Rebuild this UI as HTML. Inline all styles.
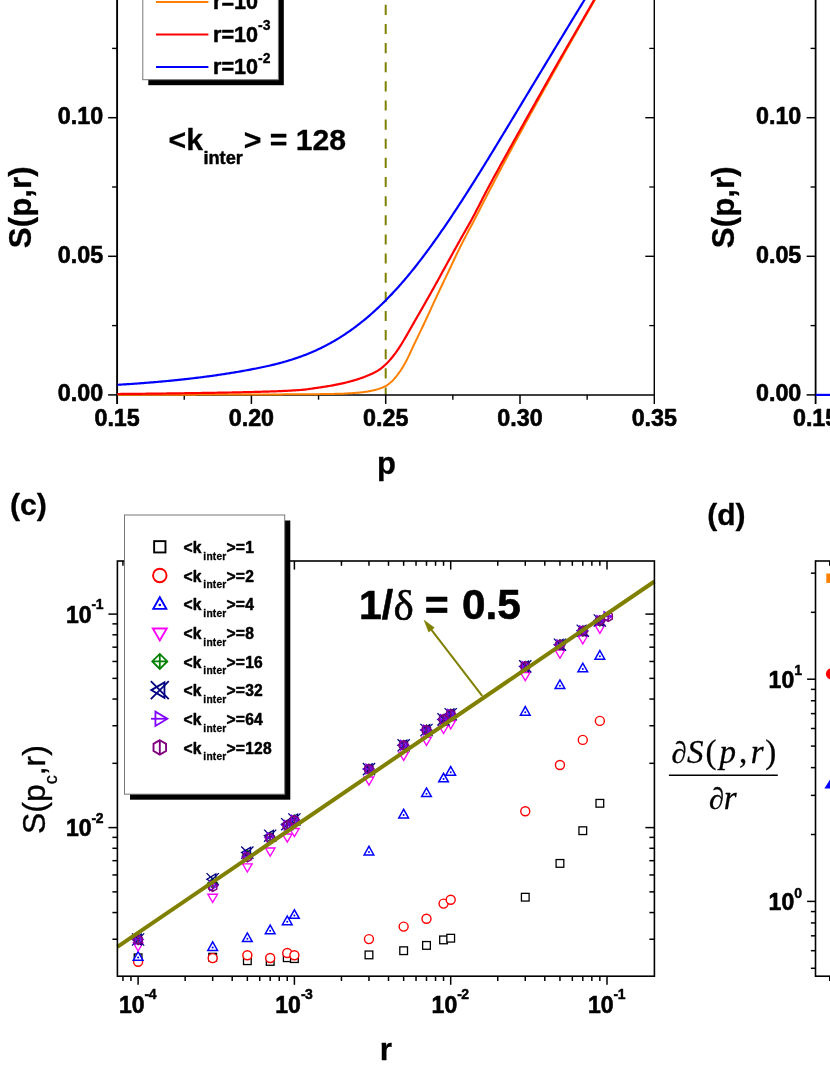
<!DOCTYPE html>
<html><head><meta charset="utf-8"><title>figure</title>
<style>html,body{margin:0;padding:0;background:#fff;overflow:hidden;}svg{display:block;will-change:transform;}text.b{stroke:#000;stroke-width:0.6px;stroke-linejoin:round;}text.g{stroke:#000;stroke-width:0.3px;stroke-linejoin:round;}text.m{stroke:#000;stroke-width:0.5px;stroke-linejoin:round;}tspan.s{stroke-width:0.3px;}tspan.t{stroke-width:0.45px;}</style></head>
<body>
<svg width="830" height="1075" viewBox="0 0 830 1075">
<rect x="0" y="0" width="830" height="1075" fill="#fff"/>
<line x1="385.7" y1="-14.3" x2="385.7" y2="394.9" stroke="#808000" stroke-width="2" stroke-dasharray="10.1 9.03"/>
<line x1="117.10" y1="-5.00" x2="117.10" y2="403.90" stroke="#000" stroke-width="1.9" />
<line x1="116.30" y1="394.90" x2="654.90" y2="394.90" stroke="#000" stroke-width="1.5" />
<line x1="654.30" y1="-5.00" x2="654.30" y2="403.90" stroke="#000" stroke-width="1.4" />
<text x="117.10" y="426.40" font-family='"Liberation Sans", sans-serif' font-size="23.3" font-weight="bold" class="b" text-anchor="middle" fill="#000" >0.15</text>
<line x1="251.40" y1="394.90" x2="251.40" y2="403.90" stroke="#000" stroke-width="1.5" />
<text x="251.40" y="426.40" font-family='"Liberation Sans", sans-serif' font-size="23.3" font-weight="bold" class="b" text-anchor="middle" fill="#000" >0.20</text>
<line x1="385.70" y1="394.90" x2="385.70" y2="403.90" stroke="#000" stroke-width="1.5" />
<text x="385.70" y="426.40" font-family='"Liberation Sans", sans-serif' font-size="23.3" font-weight="bold" class="b" text-anchor="middle" fill="#000" >0.25</text>
<line x1="520.00" y1="394.90" x2="520.00" y2="403.90" stroke="#000" stroke-width="1.5" />
<text x="520.00" y="426.40" font-family='"Liberation Sans", sans-serif' font-size="23.3" font-weight="bold" class="b" text-anchor="middle" fill="#000" >0.30</text>
<text x="654.30" y="426.40" font-family='"Liberation Sans", sans-serif' font-size="23.3" font-weight="bold" class="b" text-anchor="middle" fill="#000" >0.35</text>
<line x1="184.25" y1="394.90" x2="184.25" y2="399.70" stroke="#000" stroke-width="1.4" />
<line x1="318.55" y1="394.90" x2="318.55" y2="399.70" stroke="#000" stroke-width="1.4" />
<line x1="452.85" y1="394.90" x2="452.85" y2="399.70" stroke="#000" stroke-width="1.4" />
<line x1="587.15" y1="394.90" x2="587.15" y2="399.70" stroke="#000" stroke-width="1.4" />
<line x1="108.10" y1="394.90" x2="117.10" y2="394.90" stroke="#000" stroke-width="1.5" />
<text x="103.20" y="401.40" font-family='"Liberation Sans", sans-serif' font-size="23.3" font-weight="bold" class="b" text-anchor="end" fill="#000" >0.00</text>
<line x1="108.10" y1="256.30" x2="117.10" y2="256.30" stroke="#000" stroke-width="1.5" />
<line x1="645.30" y1="256.30" x2="654.30" y2="256.30" stroke="#000" stroke-width="1.4" />
<text x="103.20" y="262.80" font-family='"Liberation Sans", sans-serif' font-size="23.3" font-weight="bold" class="b" text-anchor="end" fill="#000" >0.05</text>
<line x1="108.10" y1="117.70" x2="117.10" y2="117.70" stroke="#000" stroke-width="1.5" />
<line x1="645.30" y1="117.70" x2="654.30" y2="117.70" stroke="#000" stroke-width="1.4" />
<text x="103.20" y="124.20" font-family='"Liberation Sans", sans-serif' font-size="23.3" font-weight="bold" class="b" text-anchor="end" fill="#000" >0.10</text>
<line x1="112.10" y1="325.60" x2="117.10" y2="325.60" stroke="#000" stroke-width="1.4" />
<line x1="649.30" y1="325.60" x2="654.30" y2="325.60" stroke="#000" stroke-width="1.3" />
<line x1="112.10" y1="187.00" x2="117.10" y2="187.00" stroke="#000" stroke-width="1.4" />
<line x1="649.30" y1="187.00" x2="654.30" y2="187.00" stroke="#000" stroke-width="1.3" />
<line x1="112.10" y1="48.40" x2="117.10" y2="48.40" stroke="#000" stroke-width="1.4" />
<line x1="649.30" y1="48.40" x2="654.30" y2="48.40" stroke="#000" stroke-width="1.3" />
<path d="M117.50,394.70 L118.71,394.70 L119.92,394.70 L121.13,394.70 L122.34,394.70 L123.55,394.70 L124.76,394.70 L125.96,394.70 L127.17,394.70 L128.38,394.70 L129.59,394.70 L130.80,394.70 L132.01,394.70 L133.22,394.70 L134.43,394.70 L135.64,394.70 L136.85,394.70 L138.06,394.70 L139.27,394.69 L140.48,394.69 L141.69,394.69 L142.89,394.69 L144.10,394.69 L145.31,394.69 L146.52,394.69 L147.73,394.69 L148.94,394.69 L150.15,394.69 L151.36,394.69 L152.57,394.69 L153.78,394.68 L154.99,394.68 L156.20,394.68 L157.41,394.68 L158.62,394.68 L159.82,394.68 L161.03,394.68 L162.24,394.68 L163.45,394.68 L164.66,394.67 L165.87,394.67 L167.08,394.67 L168.29,394.67 L169.50,394.67 L170.71,394.67 L171.92,394.66 L173.13,394.66 L174.34,394.66 L175.55,394.66 L176.75,394.66 L177.96,394.66 L179.17,394.65 L180.38,394.65 L181.59,394.65 L182.80,394.65 L184.01,394.65 L185.22,394.65 L186.43,394.64 L187.64,394.64 L188.85,394.64 L190.06,394.64 L191.27,394.64 L192.47,394.63 L193.68,394.63 L194.89,394.63 L196.10,394.63 L197.31,394.62 L198.52,394.62 L199.73,394.62 L200.94,394.62 L202.15,394.61 L203.36,394.61 L204.57,394.61 L205.78,394.61 L206.99,394.60 L208.20,394.60 L209.40,394.60 L210.61,394.60 L211.82,394.59 L213.03,394.59 L214.24,394.59 L215.45,394.59 L216.66,394.58 L217.87,394.58 L219.08,394.58 L220.29,394.57 L221.50,394.57 L222.71,394.57 L223.92,394.57 L225.13,394.56 L226.33,394.56 L227.54,394.56 L228.75,394.55 L229.96,394.55 L231.17,394.55 L232.38,394.54 L233.59,394.54 L234.80,394.54 L236.01,394.53 L237.22,394.53 L238.43,394.53 L239.64,394.52 L240.85,394.52 L242.06,394.52 L243.26,394.51 L244.47,394.51 L245.68,394.50 L246.89,394.50 L248.10,394.50 L249.31,394.49 L250.52,394.49 L251.73,394.48 L252.94,394.48 L254.15,394.48 L255.36,394.47 L256.57,394.47 L257.78,394.46 L258.98,394.46 L260.19,394.46 L261.40,394.45 L262.61,394.45 L263.82,394.44 L265.03,394.44 L266.24,394.44 L267.45,394.43 L268.66,394.43 L269.87,394.42 L271.08,394.42 L272.29,394.41 L273.50,394.41 L274.71,394.40 L275.91,394.40 L277.12,394.39 L278.33,394.39 L279.54,394.39 L280.75,394.38 L281.96,394.38 L283.17,394.37 L284.38,394.37 L285.59,394.36 L286.80,394.36 L288.01,394.35 L289.22,394.35 L290.43,394.34 L291.64,394.34 L292.84,394.33 L294.05,394.33 L295.26,394.32 L296.47,394.32 L297.68,394.31 L298.89,394.30 L300.10,394.30 L301.31,394.29 L302.52,394.29 L303.73,394.28 L304.94,394.27 L306.15,394.27 L307.36,394.26 L308.57,394.25 L309.77,394.24 L310.98,394.23 L312.19,394.22 L313.40,394.20 L314.61,394.19 L315.82,394.18 L317.03,394.17 L318.24,394.15 L319.45,394.14 L320.66,394.12 L321.87,394.10 L323.08,394.09 L324.29,394.07 L325.49,394.05 L326.70,394.03 L327.91,394.01 L329.12,393.99 L330.33,393.97 L331.54,393.95 L332.75,393.92 L333.96,393.90 L335.17,393.87 L336.38,393.85 L337.59,393.82 L338.80,393.80 L340.01,393.76 L341.22,393.73 L342.42,393.68 L343.63,393.63 L344.84,393.57 L346.05,393.51 L347.26,393.45 L348.47,393.37 L349.68,393.30 L350.89,393.22 L352.10,393.14 L353.31,393.05 L354.52,392.96 L355.73,392.87 L356.94,392.77 L358.15,392.67 L359.35,392.56 L360.56,392.44 L361.77,392.30 L362.98,392.15 L364.19,391.99 L365.40,391.82 L366.61,391.64 L367.82,391.45 L369.03,391.24 L370.24,391.02 L371.45,390.78 L372.66,390.52 L373.87,390.25 L375.08,389.95 L376.28,389.63 L377.49,389.29 L378.70,388.91 L379.91,388.50 L381.12,388.05 L382.33,387.56 L383.54,387.03 L384.75,386.45 L385.96,385.81 L387.17,385.08 L388.38,384.24 L389.59,383.30 L390.80,382.27 L392.01,381.17 L393.21,380.00 L394.42,378.69 L395.63,377.27 L396.84,375.75 L398.05,374.13 L399.26,372.45 L400.47,370.71 L401.68,368.86 L402.89,366.91 L404.10,364.85 L405.31,362.69 L406.52,360.45 L407.73,358.13 L408.93,355.67 L410.14,353.00 L411.35,350.32 L412.56,347.74 L413.77,345.18 L414.98,342.65 L416.19,340.13 L417.40,337.62 L418.61,335.11 L419.82,332.60 L421.03,330.08 L422.24,327.55 L423.45,325.00 L424.66,322.43 L425.86,319.83 L427.07,317.22 L428.28,314.60 L429.49,311.96 L430.70,309.32 L431.91,306.69 L433.12,304.06 L434.33,301.44 L435.54,298.83 L436.75,296.24 L437.96,293.67 L439.17,291.11 L440.38,288.55 L441.59,286.00 L442.79,283.46 L444.00,280.92 L445.21,278.38 L446.42,275.85 L447.63,273.31 L448.84,270.77 L450.05,268.22 L451.26,265.66 L452.47,263.10 L453.68,260.53 L454.89,257.98 L456.10,255.44 L457.31,252.92 L458.52,250.42 L459.72,247.96 L460.93,245.54 L462.14,243.15 L463.35,240.79 L464.56,238.47 L465.77,236.16 L466.98,233.87 L468.19,231.59 L469.40,229.31 L470.61,227.03 L471.82,224.74 L473.03,222.44 L474.24,220.12 L475.44,217.79 L476.65,215.44 L477.86,213.09 L479.07,210.73 L480.28,208.37 L481.49,206.01 L482.70,203.65 L483.91,201.29 L485.12,198.94 L486.33,196.59 L487.54,194.26 L488.75,191.93 L489.96,189.62 L491.17,187.30 L492.37,184.99 L493.58,182.69 L494.79,180.39 L496.00,178.09 L497.21,175.79 L498.42,173.50 L499.63,171.21 L500.84,168.92 L502.05,166.64 L503.26,164.36 L504.47,162.09 L505.68,159.82 L506.89,157.55 L508.10,155.29 L509.30,153.03 L510.51,150.78 L511.72,148.53 L512.93,146.28 L514.14,144.04 L515.35,141.81 L516.56,139.58 L517.77,137.35 L518.98,135.13 L520.19,132.91 L521.40,130.70 L522.61,128.49 L523.82,126.28 L525.03,124.07 L526.23,121.87 L527.44,119.67 L528.65,117.48 L529.86,115.28 L531.07,113.09 L532.28,110.90 L533.49,108.71 L534.70,106.52 L535.91,104.33 L537.12,102.14 L538.33,99.96 L539.54,97.77 L540.75,95.59 L541.95,93.41 L543.16,91.23 L544.37,89.05 L545.58,86.88 L546.79,84.70 L548.00,82.53 L549.21,80.36 L550.42,78.19 L551.63,76.03 L552.84,73.86 L554.05,71.70 L555.26,69.54 L556.47,67.39 L557.68,65.23 L558.88,63.08 L560.09,60.93 L561.30,58.78 L562.51,56.64 L563.72,54.50 L564.93,52.36 L566.14,50.22 L567.35,48.08 L568.56,45.95 L569.77,43.81 L570.98,41.68 L572.19,39.55 L573.40,37.42 L574.61,35.30 L575.81,33.17 L577.02,31.05 L578.23,28.93 L579.44,26.81 L580.65,24.69 L581.86,22.57 L583.07,20.46 L584.28,18.34 L585.49,16.23 L586.70,14.12 L587.91,12.01 L589.12,9.90 L590.33,7.79 L591.54,5.68 L592.74,3.58 L593.95,1.47 L595.16,-0.63 L596.37,-2.73 L597.58,-4.82 L598.79,-6.91 L600.00,-9.00" fill="none" stroke="#ff8000" stroke-width="2"/>
<path d="M117.50,394.00 L118.71,393.99 L119.92,393.98 L121.13,393.97 L122.34,393.96 L123.55,393.95 L124.76,393.94 L125.96,393.93 L127.17,393.92 L128.38,393.91 L129.59,393.90 L130.80,393.89 L132.01,393.88 L133.22,393.86 L134.43,393.85 L135.64,393.84 L136.85,393.83 L138.06,393.82 L139.27,393.80 L140.48,393.79 L141.69,393.78 L142.89,393.76 L144.10,393.75 L145.31,393.74 L146.52,393.72 L147.73,393.71 L148.94,393.70 L150.15,393.68 L151.36,393.67 L152.57,393.65 L153.78,393.64 L154.99,393.63 L156.20,393.61 L157.41,393.60 L158.62,393.58 L159.82,393.57 L161.03,393.55 L162.24,393.54 L163.45,393.52 L164.66,393.50 L165.87,393.49 L167.08,393.47 L168.29,393.46 L169.50,393.44 L170.71,393.42 L171.92,393.41 L173.13,393.39 L174.34,393.37 L175.55,393.36 L176.75,393.34 L177.96,393.32 L179.17,393.31 L180.38,393.29 L181.59,393.27 L182.80,393.26 L184.01,393.24 L185.22,393.22 L186.43,393.20 L187.64,393.19 L188.85,393.17 L190.06,393.15 L191.27,393.13 L192.47,393.11 L193.68,393.10 L194.89,393.08 L196.10,393.06 L197.31,393.04 L198.52,393.02 L199.73,393.00 L200.94,392.99 L202.15,392.97 L203.36,392.95 L204.57,392.93 L205.78,392.91 L206.99,392.89 L208.20,392.87 L209.40,392.85 L210.61,392.83 L211.82,392.82 L213.03,392.80 L214.24,392.78 L215.45,392.76 L216.66,392.74 L217.87,392.72 L219.08,392.70 L220.29,392.67 L221.50,392.65 L222.71,392.63 L223.92,392.61 L225.13,392.59 L226.33,392.57 L227.54,392.54 L228.75,392.52 L229.96,392.50 L231.17,392.48 L232.38,392.45 L233.59,392.43 L234.80,392.40 L236.01,392.38 L237.22,392.35 L238.43,392.33 L239.64,392.30 L240.85,392.28 L242.06,392.25 L243.26,392.22 L244.47,392.20 L245.68,392.17 L246.89,392.14 L248.10,392.11 L249.31,392.08 L250.52,392.05 L251.73,392.02 L252.94,391.99 L254.15,391.96 L255.36,391.93 L256.57,391.90 L257.78,391.86 L258.98,391.83 L260.19,391.79 L261.40,391.76 L262.61,391.72 L263.82,391.69 L265.03,391.65 L266.24,391.61 L267.45,391.58 L268.66,391.54 L269.87,391.50 L271.08,391.45 L272.29,391.41 L273.50,391.37 L274.71,391.32 L275.91,391.28 L277.12,391.23 L278.33,391.18 L279.54,391.13 L280.75,391.08 L281.96,391.03 L283.17,390.97 L284.38,390.91 L285.59,390.86 L286.80,390.80 L288.01,390.73 L289.22,390.67 L290.43,390.60 L291.64,390.53 L292.84,390.46 L294.05,390.39 L295.26,390.32 L296.47,390.24 L297.68,390.16 L298.89,390.08 L300.10,389.99 L301.31,389.90 L302.52,389.79 L303.73,389.67 L304.94,389.54 L306.15,389.40 L307.36,389.24 L308.57,389.08 L309.77,388.92 L310.98,388.75 L312.19,388.57 L313.40,388.39 L314.61,388.21 L315.82,388.02 L317.03,387.84 L318.24,387.66 L319.45,387.48 L320.66,387.30 L321.87,387.12 L323.08,386.93 L324.29,386.75 L325.49,386.56 L326.70,386.36 L327.91,386.17 L329.12,385.96 L330.33,385.76 L331.54,385.55 L332.75,385.33 L333.96,385.11 L335.17,384.88 L336.38,384.65 L337.59,384.41 L338.80,384.16 L340.01,383.90 L341.22,383.64 L342.42,383.37 L343.63,383.10 L344.84,382.81 L346.05,382.52 L347.26,382.22 L348.47,381.91 L349.68,381.59 L350.89,381.26 L352.10,380.92 L353.31,380.57 L354.52,380.22 L355.73,379.85 L356.94,379.47 L358.15,379.09 L359.35,378.69 L360.56,378.29 L361.77,377.88 L362.98,377.45 L364.19,377.01 L365.40,376.55 L366.61,376.08 L367.82,375.59 L369.03,375.08 L370.24,374.56 L371.45,374.01 L372.66,373.43 L373.87,372.83 L375.08,372.21 L376.28,371.56 L377.49,370.87 L378.70,370.11 L379.91,369.27 L381.12,368.36 L382.33,367.38 L383.54,366.35 L384.75,365.27 L385.96,364.15 L387.17,362.97 L388.38,361.71 L389.59,360.37 L390.80,358.98 L392.01,357.52 L393.21,356.00 L394.42,354.44 L395.63,352.84 L396.84,351.19 L398.05,349.45 L399.26,347.62 L400.47,345.71 L401.68,343.75 L402.89,341.74 L404.10,339.70 L405.31,337.66 L406.52,335.63 L407.73,333.54 L408.93,331.41 L410.14,329.26 L411.35,327.11 L412.56,324.99 L413.77,322.88 L414.98,320.77 L416.19,318.67 L417.40,316.57 L418.61,314.47 L419.82,312.36 L421.03,310.26 L422.24,308.14 L423.45,306.03 L424.66,303.90 L425.86,301.77 L427.07,299.63 L428.28,297.50 L429.49,295.36 L430.70,293.21 L431.91,291.06 L433.12,288.90 L434.33,286.74 L435.54,284.57 L436.75,282.39 L437.96,280.20 L439.17,278.00 L440.38,275.79 L441.59,273.57 L442.79,271.35 L444.00,269.13 L445.21,266.91 L446.42,264.70 L447.63,262.50 L448.84,260.30 L450.05,258.11 L451.26,255.92 L452.47,253.73 L453.68,251.55 L454.89,249.37 L456.10,247.19 L457.31,245.02 L458.52,242.85 L459.72,240.69 L460.93,238.53 L462.14,236.39 L463.35,234.26 L464.56,232.15 L465.77,230.03 L466.98,227.91 L468.19,225.78 L469.40,223.63 L470.61,221.45 L471.82,219.23 L473.03,216.98 L474.24,214.70 L475.44,212.40 L476.65,210.08 L477.86,207.74 L479.07,205.38 L480.28,203.03 L481.49,200.67 L482.70,198.31 L483.91,195.96 L485.12,193.63 L486.33,191.31 L487.54,189.02 L488.75,186.75 L489.96,184.50 L491.17,182.26 L492.37,180.02 L493.58,177.80 L494.79,175.58 L496.00,173.37 L497.21,171.16 L498.42,168.96 L499.63,166.77 L500.84,164.58 L502.05,162.39 L503.26,160.21 L504.47,158.03 L505.68,155.85 L506.89,153.68 L508.10,151.50 L509.30,149.33 L510.51,147.15 L511.72,144.98 L512.93,142.80 L514.14,140.63 L515.35,138.45 L516.56,136.28 L517.77,134.12 L518.98,131.95 L520.19,129.79 L521.40,127.63 L522.61,125.47 L523.82,123.31 L525.03,121.16 L526.23,119.00 L527.44,116.85 L528.65,114.70 L529.86,112.55 L531.07,110.40 L532.28,108.25 L533.49,106.10 L534.70,103.95 L535.91,101.81 L537.12,99.66 L538.33,97.51 L539.54,95.36 L540.75,93.21 L541.95,91.06 L543.16,88.92 L544.37,86.77 L545.58,84.62 L546.79,82.48 L548.00,80.33 L549.21,78.19 L550.42,76.05 L551.63,73.91 L552.84,71.78 L554.05,69.64 L555.26,67.51 L556.47,65.38 L557.68,63.25 L558.88,61.13 L560.09,59.01 L561.30,56.89 L562.51,54.78 L563.72,52.68 L564.93,50.57 L566.14,48.47 L567.35,46.38 L568.56,44.29 L569.77,42.20 L570.98,40.11 L572.19,38.02 L573.40,35.93 L574.61,33.85 L575.81,31.76 L577.02,29.68 L578.23,27.59 L579.44,25.50 L580.65,23.41 L581.86,21.32 L583.07,19.22 L584.28,17.13 L585.49,15.02 L586.70,12.92 L587.91,10.81 L589.12,8.70 L590.33,6.59 L591.54,4.48 L592.74,2.37 L593.95,0.26 L595.16,-1.86 L596.37,-3.97 L597.58,-6.08 L598.79,-8.19 L600.00,-10.30" fill="none" stroke="#ff0000" stroke-width="2.2"/>
<path d="M117.50,384.82 L118.68,384.74 L119.87,384.67 L121.05,384.60 L122.24,384.52 L123.42,384.44 L124.61,384.37 L125.79,384.29 L126.97,384.21 L128.16,384.13 L129.34,384.06 L130.53,383.98 L131.71,383.89 L132.89,383.81 L134.08,383.73 L135.26,383.65 L136.45,383.56 L137.63,383.48 L138.82,383.39 L140.00,383.30 L141.18,383.21 L142.37,383.12 L143.55,383.03 L144.74,382.94 L145.92,382.85 L147.11,382.76 L148.29,382.66 L149.47,382.57 L150.66,382.47 L151.84,382.38 L153.03,382.28 L154.21,382.18 L155.39,382.08 L156.58,381.98 L157.76,381.88 L158.95,381.77 L160.13,381.67 L161.32,381.56 L162.50,381.46 L163.68,381.35 L164.87,381.24 L166.05,381.13 L167.24,381.02 L168.42,380.90 L169.61,380.79 L170.79,380.68 L171.97,380.56 L173.16,380.44 L174.34,380.32 L175.53,380.20 L176.71,380.08 L177.89,379.96 L179.08,379.84 L180.26,379.71 L181.45,379.59 L182.63,379.46 L183.82,379.33 L185.00,379.20 L186.18,379.07 L187.37,378.93 L188.55,378.80 L189.74,378.66 L190.92,378.53 L192.11,378.39 L193.29,378.25 L194.47,378.11 L195.66,377.96 L196.84,377.82 L198.03,377.67 L199.21,377.53 L200.39,377.38 L201.58,377.23 L202.76,377.08 L203.95,376.92 L205.13,376.77 L206.32,376.61 L207.50,376.45 L208.68,376.29 L209.87,376.13 L211.05,375.97 L212.24,375.80 L213.42,375.64 L214.61,375.47 L215.79,375.30 L216.97,375.13 L218.16,374.96 L219.34,374.78 L220.53,374.61 L221.71,374.43 L222.89,374.25 L224.08,374.07 L225.26,373.89 L226.45,373.70 L227.63,373.52 L228.82,373.33 L230.00,373.14 L231.18,372.95 L232.37,372.75 L233.55,372.56 L234.74,372.36 L235.92,372.16 L237.11,371.96 L238.29,371.76 L239.47,371.56 L240.66,371.35 L241.84,371.14 L243.03,370.93 L244.21,370.72 L245.39,370.50 L246.58,370.29 L247.76,370.07 L248.95,369.85 L250.13,369.63 L251.32,369.41 L252.50,369.18 L253.68,368.95 L254.87,368.72 L256.05,368.49 L257.24,368.25 L258.42,368.02 L259.61,367.77 L260.79,367.53 L261.97,367.28 L263.16,367.03 L264.34,366.78 L265.53,366.52 L266.71,366.26 L267.89,366.00 L269.08,365.73 L270.26,365.45 L271.45,365.18 L272.63,364.90 L273.82,364.61 L275.00,364.32 L276.18,364.02 L277.37,363.72 L278.55,363.42 L279.74,363.11 L280.92,362.79 L282.11,362.47 L283.29,362.14 L284.47,361.81 L285.66,361.47 L286.84,361.12 L288.03,360.77 L289.21,360.41 L290.39,360.05 L291.58,359.68 L292.76,359.30 L293.95,358.92 L295.13,358.52 L296.32,358.13 L297.50,357.72 L298.68,357.31 L299.87,356.88 L301.05,356.46 L302.24,356.02 L303.42,355.57 L304.61,355.12 L305.79,354.66 L306.97,354.19 L308.16,353.72 L309.34,353.23 L310.53,352.74 L311.71,352.23 L312.89,351.72 L314.08,351.20 L315.26,350.67 L316.45,350.14 L317.63,349.59 L318.82,349.03 L320.00,348.47 L321.18,347.89 L322.37,347.31 L323.55,346.72 L324.74,346.11 L325.92,345.50 L327.11,344.88 L328.29,344.24 L329.47,343.60 L330.66,342.95 L331.84,342.29 L333.03,341.61 L334.21,340.93 L335.39,340.24 L336.58,339.53 L337.76,338.82 L338.95,338.09 L340.13,337.35 L341.32,336.61 L342.50,335.85 L343.68,335.08 L344.87,334.30 L346.05,333.51 L347.24,332.70 L348.42,331.89 L349.61,331.06 L350.79,330.23 L351.97,329.38 L353.16,328.52 L354.34,327.65 L355.53,326.77 L356.71,325.88 L357.89,324.98 L359.08,324.06 L360.26,323.13 L361.45,322.20 L362.63,321.25 L363.82,320.28 L365.00,319.31 L366.18,318.33 L367.37,317.33 L368.55,316.32 L369.74,315.30 L370.92,314.27 L372.11,313.22 L373.29,312.17 L374.47,311.10 L375.66,310.02 L376.84,308.93 L378.03,307.83 L379.21,306.71 L380.39,305.58 L381.58,304.44 L382.76,303.29 L383.95,302.12 L385.13,300.95 L386.32,299.76 L387.50,298.56 L388.68,297.34 L389.87,296.11 L391.05,294.88 L392.24,293.62 L393.42,292.36 L394.61,291.08 L395.79,289.79 L396.97,288.49 L398.16,287.18 L399.34,285.85 L400.53,284.51 L401.71,283.15 L402.89,281.79 L404.08,280.41 L405.26,279.02 L406.45,277.61 L407.63,276.20 L408.82,274.77 L410.00,273.33 L411.18,271.88 L412.37,270.42 L413.55,268.95 L414.74,267.46 L415.92,265.96 L417.11,264.46 L418.29,262.94 L419.47,261.41 L420.66,259.87 L421.84,258.32 L423.03,256.76 L424.21,255.19 L425.39,253.61 L426.58,252.01 L427.76,250.41 L428.95,248.80 L430.13,247.18 L431.32,245.55 L432.50,243.91 L433.68,242.26 L434.87,240.61 L436.05,238.94 L437.24,237.27 L438.42,235.58 L439.61,233.89 L440.79,232.19 L441.97,230.48 L443.16,228.76 L444.34,227.04 L445.53,225.31 L446.71,223.56 L447.89,221.82 L449.08,220.06 L450.26,218.30 L451.45,216.53 L452.63,214.75 L453.82,212.97 L455.00,211.17 L456.18,209.38 L457.37,207.57 L458.55,205.76 L459.74,203.94 L460.92,202.12 L462.11,200.29 L463.29,198.46 L464.47,196.62 L465.66,194.77 L466.84,192.92 L468.03,191.06 L469.21,189.20 L470.39,187.33 L471.58,185.46 L472.76,183.58 L473.95,181.70 L475.13,179.81 L476.32,177.92 L477.50,176.03 L478.68,174.13 L479.87,172.22 L481.05,170.32 L482.24,168.41 L483.42,166.49 L484.61,164.57 L485.79,162.65 L486.97,160.73 L488.16,158.80 L489.34,156.87 L490.53,154.94 L491.71,153.00 L492.89,151.06 L494.08,149.12 L495.26,147.18 L496.45,145.23 L497.63,143.28 L498.82,141.33 L500.00,139.38 L501.18,137.43 L502.37,135.47 L503.55,133.52 L504.74,131.56 L505.92,129.60 L507.11,127.64 L508.29,125.68 L509.47,123.72 L510.66,121.76 L511.84,119.80 L513.03,117.84 L514.21,115.88 L515.39,113.91 L516.58,111.95 L517.76,109.99 L518.95,108.03 L520.13,106.06 L521.32,104.10 L522.50,102.14 L523.68,100.17 L524.87,98.21 L526.05,96.25 L527.24,94.29 L528.42,92.32 L529.61,90.36 L530.79,88.40 L531.97,86.43 L533.16,84.47 L534.34,82.51 L535.53,80.55 L536.71,78.59 L537.89,76.62 L539.08,74.66 L540.26,72.70 L541.45,70.74 L542.63,68.78 L543.82,66.82 L545.00,64.86 L546.18,62.90 L547.37,60.94 L548.55,58.98 L549.74,57.02 L550.92,55.06 L552.11,53.11 L553.29,51.15 L554.47,49.19 L555.66,47.24 L556.84,45.28 L558.03,43.33 L559.21,41.37 L560.39,39.42 L561.58,37.47 L562.76,35.52 L563.95,33.57 L565.13,31.61 L566.32,29.66 L567.50,27.72 L568.68,25.77 L569.87,23.82 L571.05,21.87 L572.24,19.93 L573.42,17.98 L574.61,16.04 L575.79,14.10 L576.97,12.15 L578.16,10.21 L579.34,8.27 L580.53,6.33 L581.71,4.39 L582.89,2.46 L584.08,0.52 L585.26,-1.41 L586.45,-3.35 L587.63,-5.28 L588.82,-7.21 L590.00,-9.14" fill="none" stroke="#0000ff" stroke-width="2.2"/>
<text transform="translate(31.2,207.3) rotate(-90)" font-family='"Liberation Sans", sans-serif' font-size="31.3" class="g" font-weight="bold" text-anchor="middle">S(p,r)</text>
<text x="386.40" y="474.40" font-family='"Liberation Sans", sans-serif' font-size="31" font-weight="bold" class="g" text-anchor="middle" fill="#000" >p</text>
<text x="168.5" y="150.4" font-family='"Liberation Sans", sans-serif' class="g" font-weight="bold" font-size="30.2">&lt;k<tspan class="t" font-size="18.2" dy="13.2" dx="0.5">inter</tspan><tspan dy="-13.2" dx="0.8">&gt; = 128</tspan></text>
<rect x="148.3" y="-20" width="135.5" height="105.2" fill="#000"/>
<rect x="142.8" y="-25.5" width="135.6" height="105.2" fill="#fff" stroke="#777" stroke-width="1"/>
<line x1="156.00" y1="2.00" x2="208.40" y2="2.00" stroke="#ff8000" stroke-width="2" />
<text x="213.0" y="9.3" font-family='"Liberation Sans", sans-serif' class="m" font-weight="bold" font-size="21.6">r=10<tspan class="s" font-size="14" dy="-11.5">-4</tspan></text>
<line x1="156.00" y1="34.60" x2="208.40" y2="34.60" stroke="#ff0000" stroke-width="2" />
<text x="213.0" y="41.9" font-family='"Liberation Sans", sans-serif' class="m" font-weight="bold" font-size="21.6">r=10<tspan class="s" font-size="14" dy="-11.5">-3</tspan></text>
<line x1="156.00" y1="67.00" x2="208.40" y2="67.00" stroke="#0000ff" stroke-width="2" />
<text x="213.0" y="74.3" font-family='"Liberation Sans", sans-serif' class="m" font-weight="bold" font-size="21.6">r=10<tspan class="s" font-size="14" dy="-11.5">-2</tspan></text>
<line x1="815.60" y1="-5.00" x2="815.60" y2="403.90" stroke="#000" stroke-width="1.8" />
<line x1="814.80" y1="394.90" x2="840.00" y2="394.90" stroke="#000" stroke-width="1.5" />
<line x1="815.60" y1="394.90" x2="840.00" y2="394.90" stroke="#0000ff" stroke-width="2.2" />
<line x1="806.60" y1="394.90" x2="815.60" y2="394.90" stroke="#000" stroke-width="1.5" />
<text x="801.30" y="401.40" font-family='"Liberation Sans", sans-serif' font-size="23.3" font-weight="bold" class="b" text-anchor="end" fill="#000" >0.00</text>
<line x1="806.60" y1="256.30" x2="815.60" y2="256.30" stroke="#000" stroke-width="1.5" />
<text x="801.30" y="262.80" font-family='"Liberation Sans", sans-serif' font-size="23.3" font-weight="bold" class="b" text-anchor="end" fill="#000" >0.05</text>
<line x1="806.60" y1="117.70" x2="815.60" y2="117.70" stroke="#000" stroke-width="1.5" />
<text x="801.30" y="124.20" font-family='"Liberation Sans", sans-serif' font-size="23.3" font-weight="bold" class="b" text-anchor="end" fill="#000" >0.10</text>
<line x1="810.60" y1="325.60" x2="815.60" y2="325.60" stroke="#000" stroke-width="1.4" />
<line x1="810.60" y1="187.00" x2="815.60" y2="187.00" stroke="#000" stroke-width="1.4" />
<line x1="810.60" y1="48.40" x2="815.60" y2="48.40" stroke="#000" stroke-width="1.4" />
<text x="815.60" y="426.40" font-family='"Liberation Sans", sans-serif' font-size="23.3" font-weight="bold" class="b" text-anchor="middle" fill="#000" >0.15</text>
<text transform="translate(733.8,207.3) rotate(-90)" font-family='"Liberation Sans", sans-serif' font-size="31.3" class="g" font-weight="bold" text-anchor="middle">S(p,r)</text>
<rect x="134.25" y="953.95" width="7.70" height="7.70" fill="#fff" stroke="#000" stroke-width="1.3"/>
<rect x="208.82" y="953.35" width="7.70" height="7.70" fill="#fff" stroke="#000" stroke-width="1.3"/>
<rect x="243.50" y="956.85" width="7.70" height="7.70" fill="#fff" stroke="#000" stroke-width="1.3"/>
<rect x="266.34" y="957.55" width="7.70" height="7.70" fill="#fff" stroke="#000" stroke-width="1.3"/>
<rect x="283.40" y="953.85" width="7.70" height="7.70" fill="#fff" stroke="#000" stroke-width="1.3"/>
<rect x="290.55" y="954.75" width="7.70" height="7.70" fill="#fff" stroke="#000" stroke-width="1.3"/>
<rect x="365.12" y="951.05" width="7.70" height="7.70" fill="#fff" stroke="#000" stroke-width="1.3"/>
<rect x="399.80" y="946.85" width="7.70" height="7.70" fill="#fff" stroke="#000" stroke-width="1.3"/>
<rect x="422.64" y="941.55" width="7.70" height="7.70" fill="#fff" stroke="#000" stroke-width="1.3"/>
<rect x="439.70" y="936.05" width="7.70" height="7.70" fill="#fff" stroke="#000" stroke-width="1.3"/>
<rect x="446.85" y="934.35" width="7.70" height="7.70" fill="#fff" stroke="#000" stroke-width="1.3"/>
<rect x="521.42" y="893.35" width="7.70" height="7.70" fill="#fff" stroke="#000" stroke-width="1.3"/>
<rect x="556.10" y="859.55" width="7.70" height="7.70" fill="#fff" stroke="#000" stroke-width="1.3"/>
<rect x="578.94" y="826.85" width="7.70" height="7.70" fill="#fff" stroke="#000" stroke-width="1.3"/>
<rect x="596.00" y="799.45" width="7.70" height="7.70" fill="#fff" stroke="#000" stroke-width="1.3"/>
<circle cx="138.10" cy="961.80" r="4.50" fill="#fff" stroke="#ff0000" stroke-width="1.4"/>
<circle cx="212.67" cy="958.10" r="4.50" fill="#fff" stroke="#ff0000" stroke-width="1.4"/>
<circle cx="247.35" cy="955.30" r="4.50" fill="#fff" stroke="#ff0000" stroke-width="1.4"/>
<circle cx="270.19" cy="958.00" r="4.50" fill="#fff" stroke="#ff0000" stroke-width="1.4"/>
<circle cx="287.25" cy="953.00" r="4.50" fill="#fff" stroke="#ff0000" stroke-width="1.4"/>
<circle cx="294.40" cy="955.30" r="4.50" fill="#fff" stroke="#ff0000" stroke-width="1.4"/>
<circle cx="368.97" cy="939.10" r="4.50" fill="#fff" stroke="#ff0000" stroke-width="1.4"/>
<circle cx="403.65" cy="926.60" r="4.50" fill="#fff" stroke="#ff0000" stroke-width="1.4"/>
<circle cx="426.49" cy="918.80" r="4.50" fill="#fff" stroke="#ff0000" stroke-width="1.4"/>
<circle cx="443.55" cy="903.60" r="4.50" fill="#fff" stroke="#ff0000" stroke-width="1.4"/>
<circle cx="450.70" cy="899.70" r="4.50" fill="#fff" stroke="#ff0000" stroke-width="1.4"/>
<circle cx="525.27" cy="811.30" r="4.50" fill="#fff" stroke="#ff0000" stroke-width="1.4"/>
<circle cx="559.95" cy="765.00" r="4.50" fill="#fff" stroke="#ff0000" stroke-width="1.4"/>
<circle cx="582.79" cy="739.90" r="4.50" fill="#fff" stroke="#ff0000" stroke-width="1.4"/>
<circle cx="599.85" cy="720.90" r="4.50" fill="#fff" stroke="#ff0000" stroke-width="1.4"/>
<path d="M133.25,960.27 L142.95,960.27 L138.10,951.67 Z" fill="#fff" stroke="#0000ff" stroke-width="1.5"/>
<circle cx="138.10" cy="957.40" r="1.00" fill="#0000ff"/>
<path d="M207.82,950.47 L217.52,950.47 L212.67,941.87 Z" fill="#fff" stroke="#0000ff" stroke-width="1.5"/>
<circle cx="212.67" cy="947.60" r="1.00" fill="#0000ff"/>
<path d="M242.50,941.57 L252.20,941.57 L247.35,932.97 Z" fill="#fff" stroke="#0000ff" stroke-width="1.5"/>
<circle cx="247.35" cy="938.70" r="1.00" fill="#0000ff"/>
<path d="M265.34,933.67 L275.04,933.67 L270.19,925.07 Z" fill="#fff" stroke="#0000ff" stroke-width="1.5"/>
<circle cx="270.19" cy="930.80" r="1.00" fill="#0000ff"/>
<path d="M282.40,924.67 L292.10,924.67 L287.25,916.07 Z" fill="#fff" stroke="#0000ff" stroke-width="1.5"/>
<circle cx="287.25" cy="921.80" r="1.00" fill="#0000ff"/>
<path d="M289.55,918.37 L299.25,918.37 L294.40,909.77 Z" fill="#fff" stroke="#0000ff" stroke-width="1.5"/>
<circle cx="294.40" cy="915.50" r="1.00" fill="#0000ff"/>
<path d="M364.12,854.97 L373.82,854.97 L368.97,846.37 Z" fill="#fff" stroke="#0000ff" stroke-width="1.5"/>
<circle cx="368.97" cy="852.10" r="1.00" fill="#0000ff"/>
<path d="M398.80,817.97 L408.50,817.97 L403.65,809.37 Z" fill="#fff" stroke="#0000ff" stroke-width="1.5"/>
<circle cx="403.65" cy="815.10" r="1.00" fill="#0000ff"/>
<path d="M421.64,796.57 L431.34,796.57 L426.49,787.97 Z" fill="#fff" stroke="#0000ff" stroke-width="1.5"/>
<circle cx="426.49" cy="793.70" r="1.00" fill="#0000ff"/>
<path d="M438.70,781.87 L448.40,781.87 L443.55,773.27 Z" fill="#fff" stroke="#0000ff" stroke-width="1.5"/>
<circle cx="443.55" cy="779.00" r="1.00" fill="#0000ff"/>
<path d="M445.85,775.17 L455.55,775.17 L450.70,766.57 Z" fill="#fff" stroke="#0000ff" stroke-width="1.5"/>
<circle cx="450.70" cy="772.30" r="1.00" fill="#0000ff"/>
<path d="M520.42,715.17 L530.12,715.17 L525.27,706.57 Z" fill="#fff" stroke="#0000ff" stroke-width="1.5"/>
<circle cx="525.27" cy="712.30" r="1.00" fill="#0000ff"/>
<path d="M555.10,688.57 L564.80,688.57 L559.95,679.97 Z" fill="#fff" stroke="#0000ff" stroke-width="1.5"/>
<circle cx="559.95" cy="685.70" r="1.00" fill="#0000ff"/>
<path d="M577.94,671.77 L587.64,671.77 L582.79,663.17 Z" fill="#fff" stroke="#0000ff" stroke-width="1.5"/>
<circle cx="582.79" cy="668.90" r="1.00" fill="#0000ff"/>
<path d="M595.00,659.17 L604.70,659.17 L599.85,650.57 Z" fill="#fff" stroke="#0000ff" stroke-width="1.5"/>
<circle cx="599.85" cy="656.30" r="1.00" fill="#0000ff"/>
<path d="M133.30,942.88 L142.90,942.88 L138.10,951.03 Z" fill="#fff" stroke="#ff00ff" stroke-width="1.35"/>
<path d="M207.87,894.28 L217.47,894.28 L212.67,902.43 Z" fill="#fff" stroke="#ff00ff" stroke-width="1.35"/>
<path d="M242.55,863.88 L252.15,863.88 L247.35,872.03 Z" fill="#fff" stroke="#ff00ff" stroke-width="1.35"/>
<path d="M265.39,847.98 L274.99,847.98 L270.19,856.13 Z" fill="#fff" stroke="#ff00ff" stroke-width="1.35"/>
<path d="M282.45,833.98 L292.05,833.98 L287.25,842.13 Z" fill="#fff" stroke="#ff00ff" stroke-width="1.35"/>
<path d="M289.60,828.48 L299.20,828.48 L294.40,836.63 Z" fill="#fff" stroke="#ff00ff" stroke-width="1.35"/>
<path d="M364.17,776.98 L373.77,776.98 L368.97,785.13 Z" fill="#fff" stroke="#ff00ff" stroke-width="1.35"/>
<path d="M398.85,752.18 L408.45,752.18 L403.65,760.33 Z" fill="#fff" stroke="#ff00ff" stroke-width="1.35"/>
<path d="M421.69,737.28 L431.29,737.28 L426.49,745.43 Z" fill="#fff" stroke="#ff00ff" stroke-width="1.35"/>
<path d="M438.75,725.38 L448.35,725.38 L443.55,733.53 Z" fill="#fff" stroke="#ff00ff" stroke-width="1.35"/>
<path d="M445.90,720.78 L455.50,720.78 L450.70,728.93 Z" fill="#fff" stroke="#ff00ff" stroke-width="1.35"/>
<path d="M520.47,672.48 L530.07,672.48 L525.27,680.63 Z" fill="#fff" stroke="#ff00ff" stroke-width="1.35"/>
<path d="M555.15,650.08 L564.75,650.08 L559.95,658.23 Z" fill="#fff" stroke="#ff00ff" stroke-width="1.35"/>
<path d="M577.99,635.78 L587.59,635.78 L582.79,643.93 Z" fill="#fff" stroke="#ff00ff" stroke-width="1.35"/>
<path d="M595.05,625.18 L604.65,625.18 L599.85,633.33 Z" fill="#fff" stroke="#ff00ff" stroke-width="1.35"/>
<path d="M133.10,939.50 L138.10,934.50 L143.10,939.50 L138.10,944.50 Z" fill="none" stroke="#008000" stroke-width="1.3"/>
<path d="M133.10,939.50 L143.10,939.50 M138.10,934.50 L138.10,944.50" fill="none" stroke="#008000" stroke-width="1.3"/>
<path d="M207.67,883.20 L212.67,878.20 L217.67,883.20 L212.67,888.20 Z" fill="none" stroke="#008000" stroke-width="1.3"/>
<path d="M207.67,883.20 L217.67,883.20 M212.67,878.20 L212.67,888.20" fill="none" stroke="#008000" stroke-width="1.3"/>
<path d="M242.35,855.10 L247.35,850.10 L252.35,855.10 L247.35,860.10 Z" fill="none" stroke="#008000" stroke-width="1.3"/>
<path d="M242.35,855.10 L252.35,855.10 M247.35,850.10 L247.35,860.10" fill="none" stroke="#008000" stroke-width="1.3"/>
<path d="M265.19,837.20 L270.19,832.20 L275.19,837.20 L270.19,842.20 Z" fill="none" stroke="#008000" stroke-width="1.3"/>
<path d="M265.19,837.20 L275.19,837.20 M270.19,832.20 L270.19,842.20" fill="none" stroke="#008000" stroke-width="1.3"/>
<path d="M282.25,825.20 L287.25,820.20 L292.25,825.20 L287.25,830.20 Z" fill="none" stroke="#008000" stroke-width="1.3"/>
<path d="M282.25,825.20 L292.25,825.20 M287.25,820.20 L287.25,830.20" fill="none" stroke="#008000" stroke-width="1.3"/>
<path d="M289.40,820.00 L294.40,815.00 L299.40,820.00 L294.40,825.00 Z" fill="none" stroke="#008000" stroke-width="1.3"/>
<path d="M289.40,820.00 L299.40,820.00 M294.40,815.00 L294.40,825.00" fill="none" stroke="#008000" stroke-width="1.3"/>
<path d="M363.97,769.10 L368.97,764.10 L373.97,769.10 L368.97,774.10 Z" fill="none" stroke="#008000" stroke-width="1.3"/>
<path d="M363.97,769.10 L373.97,769.10 M368.97,764.10 L368.97,774.10" fill="none" stroke="#008000" stroke-width="1.3"/>
<path d="M398.65,745.30 L403.65,740.30 L408.65,745.30 L403.65,750.30 Z" fill="none" stroke="#008000" stroke-width="1.3"/>
<path d="M398.65,745.30 L408.65,745.30 M403.65,740.30 L403.65,750.30" fill="none" stroke="#008000" stroke-width="1.3"/>
<path d="M421.49,730.00 L426.49,725.00 L431.49,730.00 L426.49,735.00 Z" fill="none" stroke="#008000" stroke-width="1.3"/>
<path d="M421.49,730.00 L431.49,730.00 M426.49,725.00 L426.49,735.00" fill="none" stroke="#008000" stroke-width="1.3"/>
<path d="M438.55,719.40 L443.55,714.40 L448.55,719.40 L443.55,724.40 Z" fill="none" stroke="#008000" stroke-width="1.3"/>
<path d="M438.55,719.40 L448.55,719.40 M443.55,714.40 L443.55,724.40" fill="none" stroke="#008000" stroke-width="1.3"/>
<path d="M445.70,714.20 L450.70,709.20 L455.70,714.20 L450.70,719.20 Z" fill="none" stroke="#008000" stroke-width="1.3"/>
<path d="M445.70,714.20 L455.70,714.20 M450.70,709.20 L450.70,719.20" fill="none" stroke="#008000" stroke-width="1.3"/>
<path d="M520.27,666.40 L525.27,661.40 L530.27,666.40 L525.27,671.40 Z" fill="none" stroke="#008000" stroke-width="1.3"/>
<path d="M520.27,666.40 L530.27,666.40 M525.27,661.40 L525.27,671.40" fill="none" stroke="#008000" stroke-width="1.3"/>
<path d="M554.95,644.70 L559.95,639.70 L564.95,644.70 L559.95,649.70 Z" fill="none" stroke="#008000" stroke-width="1.3"/>
<path d="M554.95,644.70 L564.95,644.70 M559.95,639.70 L559.95,649.70" fill="none" stroke="#008000" stroke-width="1.3"/>
<path d="M577.79,631.20 L582.79,626.20 L587.79,631.20 L582.79,636.20 Z" fill="none" stroke="#008000" stroke-width="1.3"/>
<path d="M577.79,631.20 L587.79,631.20 M582.79,626.20 L582.79,636.20" fill="none" stroke="#008000" stroke-width="1.3"/>
<path d="M594.85,621.00 L599.85,616.00 L604.85,621.00 L599.85,626.00 Z" fill="none" stroke="#008000" stroke-width="1.3"/>
<path d="M594.85,621.00 L604.85,621.00 M599.85,616.00 L599.85,626.00" fill="none" stroke="#008000" stroke-width="1.3"/>
<path d="M141.27,934.25 L141.27,944.75 L132.31,939.50 Z" fill="none" stroke="#000080" stroke-width="1.3"/>
<path d="M132.00,933.40 L144.20,945.60 M132.00,945.60 L144.20,933.40" fill="none" stroke="#000080" stroke-width="1.3"/>
<path d="M215.85,873.95 L215.85,884.45 L206.88,879.20 Z" fill="none" stroke="#000080" stroke-width="1.3"/>
<path d="M206.57,873.10 L218.77,885.30 M206.57,885.30 L218.77,873.10" fill="none" stroke="#000080" stroke-width="1.3"/>
<path d="M250.52,847.35 L250.52,857.85 L241.55,852.60 Z" fill="none" stroke="#000080" stroke-width="1.3"/>
<path d="M241.25,846.50 L253.45,858.70 M241.25,858.70 L253.45,846.50" fill="none" stroke="#000080" stroke-width="1.3"/>
<path d="M273.36,830.45 L273.36,840.95 L264.39,835.70 Z" fill="none" stroke="#000080" stroke-width="1.3"/>
<path d="M264.09,829.60 L276.29,841.80 M264.09,841.80 L276.29,829.60" fill="none" stroke="#000080" stroke-width="1.3"/>
<path d="M290.42,818.95 L290.42,829.45 L281.45,824.20 Z" fill="none" stroke="#000080" stroke-width="1.3"/>
<path d="M281.15,818.10 L293.35,830.30 M281.15,830.30 L293.35,818.10" fill="none" stroke="#000080" stroke-width="1.3"/>
<path d="M297.57,814.25 L297.57,824.75 L288.60,819.50 Z" fill="none" stroke="#000080" stroke-width="1.3"/>
<path d="M288.30,813.40 L300.50,825.60 M288.30,825.60 L300.50,813.40" fill="none" stroke="#000080" stroke-width="1.3"/>
<path d="M372.15,763.85 L372.15,774.35 L363.18,769.10 Z" fill="none" stroke="#000080" stroke-width="1.3"/>
<path d="M362.87,763.00 L375.07,775.20 M362.87,775.20 L375.07,763.00" fill="none" stroke="#000080" stroke-width="1.3"/>
<path d="M406.82,740.05 L406.82,750.55 L397.85,745.30 Z" fill="none" stroke="#000080" stroke-width="1.3"/>
<path d="M397.55,739.20 L409.75,751.40 M397.55,751.40 L409.75,739.20" fill="none" stroke="#000080" stroke-width="1.3"/>
<path d="M429.66,724.75 L429.66,735.25 L420.69,730.00 Z" fill="none" stroke="#000080" stroke-width="1.3"/>
<path d="M420.39,723.90 L432.59,736.10 M420.39,736.10 L432.59,723.90" fill="none" stroke="#000080" stroke-width="1.3"/>
<path d="M446.72,714.15 L446.72,724.65 L437.75,719.40 Z" fill="none" stroke="#000080" stroke-width="1.3"/>
<path d="M437.45,713.30 L449.65,725.50 M437.45,725.50 L449.65,713.30" fill="none" stroke="#000080" stroke-width="1.3"/>
<path d="M453.87,708.95 L453.87,719.45 L444.91,714.20 Z" fill="none" stroke="#000080" stroke-width="1.3"/>
<path d="M444.60,708.10 L456.80,720.30 M444.60,720.30 L456.80,708.10" fill="none" stroke="#000080" stroke-width="1.3"/>
<path d="M528.45,661.15 L528.45,671.65 L519.48,666.40 Z" fill="none" stroke="#000080" stroke-width="1.3"/>
<path d="M519.17,660.30 L531.37,672.50 M519.17,672.50 L531.37,660.30" fill="none" stroke="#000080" stroke-width="1.3"/>
<path d="M563.12,639.45 L563.12,649.95 L554.15,644.70 Z" fill="none" stroke="#000080" stroke-width="1.3"/>
<path d="M553.85,638.60 L566.05,650.80 M553.85,650.80 L566.05,638.60" fill="none" stroke="#000080" stroke-width="1.3"/>
<path d="M585.96,625.45 L585.96,635.95 L576.99,630.70 Z" fill="none" stroke="#000080" stroke-width="1.3"/>
<path d="M576.69,624.60 L588.89,636.80 M576.69,636.80 L588.89,624.60" fill="none" stroke="#000080" stroke-width="1.3"/>
<path d="M603.02,615.25 L603.02,625.75 L594.05,620.50 Z" fill="none" stroke="#000080" stroke-width="1.3"/>
<path d="M593.75,614.40 L605.95,626.60 M593.75,626.60 L605.95,614.40" fill="none" stroke="#000080" stroke-width="1.3"/>
<path d="M135.13,934.64 L135.13,944.36 L143.23,939.50 Z" fill="none" stroke="#8000ff" stroke-width="1.3"/>
<path d="M132.16,939.50 L143.23,939.50" fill="none" stroke="#8000ff" stroke-width="1.3"/>
<path d="M209.70,880.84 L209.70,890.56 L217.80,885.70 Z" fill="none" stroke="#8000ff" stroke-width="1.3"/>
<path d="M206.73,885.70 L217.80,885.70" fill="none" stroke="#8000ff" stroke-width="1.3"/>
<path d="M244.38,851.74 L244.38,861.46 L252.48,856.60 Z" fill="none" stroke="#8000ff" stroke-width="1.3"/>
<path d="M241.41,856.60 L252.48,856.60" fill="none" stroke="#8000ff" stroke-width="1.3"/>
<path d="M267.22,832.84 L267.22,842.56 L275.32,837.70 Z" fill="none" stroke="#8000ff" stroke-width="1.3"/>
<path d="M264.25,837.70 L275.32,837.70" fill="none" stroke="#8000ff" stroke-width="1.3"/>
<path d="M284.28,820.34 L284.28,830.06 L292.38,825.20 Z" fill="none" stroke="#8000ff" stroke-width="1.3"/>
<path d="M281.31,825.20 L292.38,825.20" fill="none" stroke="#8000ff" stroke-width="1.3"/>
<path d="M291.43,815.14 L291.43,824.86 L299.53,820.00 Z" fill="none" stroke="#8000ff" stroke-width="1.3"/>
<path d="M288.46,820.00 L299.53,820.00" fill="none" stroke="#8000ff" stroke-width="1.3"/>
<path d="M366.00,764.24 L366.00,773.96 L374.10,769.10 Z" fill="none" stroke="#8000ff" stroke-width="1.3"/>
<path d="M363.03,769.10 L374.10,769.10" fill="none" stroke="#8000ff" stroke-width="1.3"/>
<path d="M400.68,740.44 L400.68,750.16 L408.78,745.30 Z" fill="none" stroke="#8000ff" stroke-width="1.3"/>
<path d="M397.71,745.30 L408.78,745.30" fill="none" stroke="#8000ff" stroke-width="1.3"/>
<path d="M423.52,725.14 L423.52,734.86 L431.62,730.00 Z" fill="none" stroke="#8000ff" stroke-width="1.3"/>
<path d="M420.55,730.00 L431.62,730.00" fill="none" stroke="#8000ff" stroke-width="1.3"/>
<path d="M440.58,714.54 L440.58,724.26 L448.68,719.40 Z" fill="none" stroke="#8000ff" stroke-width="1.3"/>
<path d="M437.61,719.40 L448.68,719.40" fill="none" stroke="#8000ff" stroke-width="1.3"/>
<path d="M447.73,709.34 L447.73,719.06 L455.83,714.20 Z" fill="none" stroke="#8000ff" stroke-width="1.3"/>
<path d="M444.76,714.20 L455.83,714.20" fill="none" stroke="#8000ff" stroke-width="1.3"/>
<path d="M522.30,661.54 L522.30,671.26 L530.40,666.40 Z" fill="none" stroke="#8000ff" stroke-width="1.3"/>
<path d="M519.33,666.40 L530.40,666.40" fill="none" stroke="#8000ff" stroke-width="1.3"/>
<path d="M556.98,639.84 L556.98,649.56 L565.08,644.70 Z" fill="none" stroke="#8000ff" stroke-width="1.3"/>
<path d="M554.01,644.70 L565.08,644.70" fill="none" stroke="#8000ff" stroke-width="1.3"/>
<path d="M579.82,625.84 L579.82,635.56 L587.92,630.70 Z" fill="none" stroke="#8000ff" stroke-width="1.3"/>
<path d="M576.85,630.70 L587.92,630.70" fill="none" stroke="#8000ff" stroke-width="1.3"/>
<path d="M596.88,615.64 L596.88,625.36 L604.98,620.50 Z" fill="none" stroke="#8000ff" stroke-width="1.3"/>
<path d="M593.91,620.50 L604.98,620.50" fill="none" stroke="#8000ff" stroke-width="1.3"/>
<path d="M604.03,611.74 L604.03,621.46 L612.13,616.60 Z" fill="none" stroke="#8000ff" stroke-width="1.3"/>
<path d="M601.06,616.60 L612.13,616.60" fill="none" stroke="#8000ff" stroke-width="1.3"/>
<path d="M138.10,935.05 L142.23,937.42 L142.23,942.17 L138.10,944.55 L133.97,942.17 L133.97,937.42 Z" fill="none" stroke="#800080" stroke-width="1.4"/>
<path d="M138.10,935.05 L138.10,944.55" fill="none" stroke="#800080" stroke-width="1.4"/>
<path d="M212.67,881.95 L216.81,884.33 L216.81,889.08 L212.67,891.45 L208.54,889.08 L208.54,884.33 Z" fill="none" stroke="#800080" stroke-width="1.4"/>
<path d="M212.67,881.95 L212.67,891.45" fill="none" stroke="#800080" stroke-width="1.4"/>
<path d="M247.35,852.35 L251.48,854.73 L251.48,859.48 L247.35,861.85 L243.22,859.48 L243.22,854.73 Z" fill="none" stroke="#800080" stroke-width="1.4"/>
<path d="M247.35,852.35 L247.35,861.85" fill="none" stroke="#800080" stroke-width="1.4"/>
<path d="M270.19,833.45 L274.32,835.83 L274.32,840.58 L270.19,842.95 L266.06,840.58 L266.06,835.83 Z" fill="none" stroke="#800080" stroke-width="1.4"/>
<path d="M270.19,833.45 L270.19,842.95" fill="none" stroke="#800080" stroke-width="1.4"/>
<path d="M287.25,820.75 L291.38,823.12 L291.38,827.88 L287.25,830.25 L283.12,827.88 L283.12,823.12 Z" fill="none" stroke="#800080" stroke-width="1.4"/>
<path d="M287.25,820.75 L287.25,830.25" fill="none" stroke="#800080" stroke-width="1.4"/>
<path d="M294.40,815.55 L298.53,817.92 L298.53,822.67 L294.40,825.05 L290.27,822.67 L290.27,817.92 Z" fill="none" stroke="#800080" stroke-width="1.4"/>
<path d="M294.40,815.55 L294.40,825.05" fill="none" stroke="#800080" stroke-width="1.4"/>
<path d="M368.97,764.35 L373.11,766.73 L373.11,771.48 L368.97,773.85 L364.84,771.48 L364.84,766.73 Z" fill="none" stroke="#800080" stroke-width="1.4"/>
<path d="M368.97,764.35 L368.97,773.85" fill="none" stroke="#800080" stroke-width="1.4"/>
<path d="M403.65,740.55 L407.78,742.92 L407.78,747.67 L403.65,750.05 L399.52,747.67 L399.52,742.92 Z" fill="none" stroke="#800080" stroke-width="1.4"/>
<path d="M403.65,740.55 L403.65,750.05" fill="none" stroke="#800080" stroke-width="1.4"/>
<path d="M426.49,725.25 L430.62,727.62 L430.62,732.38 L426.49,734.75 L422.36,732.38 L422.36,727.62 Z" fill="none" stroke="#800080" stroke-width="1.4"/>
<path d="M426.49,725.25 L426.49,734.75" fill="none" stroke="#800080" stroke-width="1.4"/>
<path d="M443.55,714.65 L447.68,717.02 L447.68,721.77 L443.55,724.15 L439.42,721.77 L439.42,717.02 Z" fill="none" stroke="#800080" stroke-width="1.4"/>
<path d="M443.55,714.65 L443.55,724.15" fill="none" stroke="#800080" stroke-width="1.4"/>
<path d="M450.70,709.45 L454.83,711.83 L454.83,716.58 L450.70,718.95 L446.57,716.58 L446.57,711.83 Z" fill="none" stroke="#800080" stroke-width="1.4"/>
<path d="M450.70,709.45 L450.70,718.95" fill="none" stroke="#800080" stroke-width="1.4"/>
<path d="M525.27,661.65 L529.41,664.02 L529.41,668.77 L525.27,671.15 L521.14,668.77 L521.14,664.02 Z" fill="none" stroke="#800080" stroke-width="1.4"/>
<path d="M525.27,661.65 L525.27,671.15" fill="none" stroke="#800080" stroke-width="1.4"/>
<path d="M559.95,639.95 L564.08,642.33 L564.08,647.08 L559.95,649.45 L555.82,647.08 L555.82,642.33 Z" fill="none" stroke="#800080" stroke-width="1.4"/>
<path d="M559.95,639.95 L559.95,649.45" fill="none" stroke="#800080" stroke-width="1.4"/>
<path d="M582.79,625.95 L586.92,628.33 L586.92,633.08 L582.79,635.45 L578.66,633.08 L578.66,628.33 Z" fill="none" stroke="#800080" stroke-width="1.4"/>
<path d="M582.79,625.95 L582.79,635.45" fill="none" stroke="#800080" stroke-width="1.4"/>
<path d="M599.85,615.75 L603.98,618.12 L603.98,622.88 L599.85,625.25 L595.72,622.88 L595.72,618.12 Z" fill="none" stroke="#800080" stroke-width="1.4"/>
<path d="M599.85,615.75 L599.85,625.25" fill="none" stroke="#800080" stroke-width="1.4"/>
<path d="M608.20,611.85 L612.33,614.23 L612.33,618.98 L608.20,621.35 L604.07,618.98 L604.07,614.23 Z" fill="none" stroke="#800080" stroke-width="1.4"/>
<path d="M608.20,611.85 L608.20,621.35" fill="none" stroke="#800080" stroke-width="1.4"/>
<line x1="117.40" y1="946.93" x2="654.40" y2="581.50" stroke="#808000" stroke-width="4" />
<line x1="482.20" y1="695.80" x2="428.60" y2="626.20" stroke="#808000" stroke-width="2.0" />
<path d="M424.2,620.3 L434.3,627.7 L428.7,632.0 Z" fill="#808000" stroke="#808000" stroke-width="0.6" stroke-linejoin="round"/>
<rect x="117.4" y="561.0" width="537.00" height="415.20" fill="none" stroke="#000" stroke-width="1.6"/>
<line x1="122.95" y1="976.20" x2="122.95" y2="981.00" stroke="#000" stroke-width="1.5" />
<line x1="122.95" y1="561.00" x2="122.95" y2="565.80" stroke="#000" stroke-width="1.5" />
<line x1="130.95" y1="976.20" x2="130.95" y2="981.00" stroke="#000" stroke-width="1.5" />
<line x1="130.95" y1="561.00" x2="130.95" y2="565.80" stroke="#000" stroke-width="1.5" />
<line x1="138.10" y1="976.20" x2="138.10" y2="984.80" stroke="#000" stroke-width="1.5" />
<line x1="138.10" y1="561.00" x2="138.10" y2="569.60" stroke="#000" stroke-width="1.5" />
<line x1="185.15" y1="976.20" x2="185.15" y2="981.00" stroke="#000" stroke-width="1.5" />
<line x1="185.15" y1="561.00" x2="185.15" y2="565.80" stroke="#000" stroke-width="1.5" />
<line x1="212.67" y1="976.20" x2="212.67" y2="981.00" stroke="#000" stroke-width="1.5" />
<line x1="212.67" y1="561.00" x2="212.67" y2="565.80" stroke="#000" stroke-width="1.5" />
<line x1="232.20" y1="976.20" x2="232.20" y2="981.00" stroke="#000" stroke-width="1.5" />
<line x1="232.20" y1="561.00" x2="232.20" y2="565.80" stroke="#000" stroke-width="1.5" />
<line x1="247.35" y1="976.20" x2="247.35" y2="981.00" stroke="#000" stroke-width="1.5" />
<line x1="247.35" y1="561.00" x2="247.35" y2="565.80" stroke="#000" stroke-width="1.5" />
<line x1="259.73" y1="976.20" x2="259.73" y2="981.00" stroke="#000" stroke-width="1.5" />
<line x1="259.73" y1="561.00" x2="259.73" y2="565.80" stroke="#000" stroke-width="1.5" />
<line x1="270.19" y1="976.20" x2="270.19" y2="981.00" stroke="#000" stroke-width="1.5" />
<line x1="270.19" y1="561.00" x2="270.19" y2="565.80" stroke="#000" stroke-width="1.5" />
<line x1="279.25" y1="976.20" x2="279.25" y2="981.00" stroke="#000" stroke-width="1.5" />
<line x1="279.25" y1="561.00" x2="279.25" y2="565.80" stroke="#000" stroke-width="1.5" />
<line x1="287.25" y1="976.20" x2="287.25" y2="981.00" stroke="#000" stroke-width="1.5" />
<line x1="287.25" y1="561.00" x2="287.25" y2="565.80" stroke="#000" stroke-width="1.5" />
<line x1="294.40" y1="976.20" x2="294.40" y2="984.80" stroke="#000" stroke-width="1.5" />
<line x1="294.40" y1="561.00" x2="294.40" y2="569.60" stroke="#000" stroke-width="1.5" />
<line x1="341.45" y1="976.20" x2="341.45" y2="981.00" stroke="#000" stroke-width="1.5" />
<line x1="341.45" y1="561.00" x2="341.45" y2="565.80" stroke="#000" stroke-width="1.5" />
<line x1="368.97" y1="976.20" x2="368.97" y2="981.00" stroke="#000" stroke-width="1.5" />
<line x1="368.97" y1="561.00" x2="368.97" y2="565.80" stroke="#000" stroke-width="1.5" />
<line x1="388.50" y1="976.20" x2="388.50" y2="981.00" stroke="#000" stroke-width="1.5" />
<line x1="388.50" y1="561.00" x2="388.50" y2="565.80" stroke="#000" stroke-width="1.5" />
<line x1="403.65" y1="976.20" x2="403.65" y2="981.00" stroke="#000" stroke-width="1.5" />
<line x1="403.65" y1="561.00" x2="403.65" y2="565.80" stroke="#000" stroke-width="1.5" />
<line x1="416.03" y1="976.20" x2="416.03" y2="981.00" stroke="#000" stroke-width="1.5" />
<line x1="416.03" y1="561.00" x2="416.03" y2="565.80" stroke="#000" stroke-width="1.5" />
<line x1="426.49" y1="976.20" x2="426.49" y2="981.00" stroke="#000" stroke-width="1.5" />
<line x1="426.49" y1="561.00" x2="426.49" y2="565.80" stroke="#000" stroke-width="1.5" />
<line x1="435.55" y1="976.20" x2="435.55" y2="981.00" stroke="#000" stroke-width="1.5" />
<line x1="435.55" y1="561.00" x2="435.55" y2="565.80" stroke="#000" stroke-width="1.5" />
<line x1="443.55" y1="976.20" x2="443.55" y2="981.00" stroke="#000" stroke-width="1.5" />
<line x1="443.55" y1="561.00" x2="443.55" y2="565.80" stroke="#000" stroke-width="1.5" />
<line x1="450.70" y1="976.20" x2="450.70" y2="984.80" stroke="#000" stroke-width="1.5" />
<line x1="450.70" y1="561.00" x2="450.70" y2="569.60" stroke="#000" stroke-width="1.5" />
<line x1="497.75" y1="976.20" x2="497.75" y2="981.00" stroke="#000" stroke-width="1.5" />
<line x1="497.75" y1="561.00" x2="497.75" y2="565.80" stroke="#000" stroke-width="1.5" />
<line x1="525.27" y1="976.20" x2="525.27" y2="981.00" stroke="#000" stroke-width="1.5" />
<line x1="525.27" y1="561.00" x2="525.27" y2="565.80" stroke="#000" stroke-width="1.5" />
<line x1="544.80" y1="976.20" x2="544.80" y2="981.00" stroke="#000" stroke-width="1.5" />
<line x1="544.80" y1="561.00" x2="544.80" y2="565.80" stroke="#000" stroke-width="1.5" />
<line x1="559.95" y1="976.20" x2="559.95" y2="981.00" stroke="#000" stroke-width="1.5" />
<line x1="559.95" y1="561.00" x2="559.95" y2="565.80" stroke="#000" stroke-width="1.5" />
<line x1="572.33" y1="976.20" x2="572.33" y2="981.00" stroke="#000" stroke-width="1.5" />
<line x1="572.33" y1="561.00" x2="572.33" y2="565.80" stroke="#000" stroke-width="1.5" />
<line x1="582.79" y1="976.20" x2="582.79" y2="981.00" stroke="#000" stroke-width="1.5" />
<line x1="582.79" y1="561.00" x2="582.79" y2="565.80" stroke="#000" stroke-width="1.5" />
<line x1="591.85" y1="976.20" x2="591.85" y2="981.00" stroke="#000" stroke-width="1.5" />
<line x1="591.85" y1="561.00" x2="591.85" y2="565.80" stroke="#000" stroke-width="1.5" />
<line x1="599.85" y1="976.20" x2="599.85" y2="981.00" stroke="#000" stroke-width="1.5" />
<line x1="599.85" y1="561.00" x2="599.85" y2="565.80" stroke="#000" stroke-width="1.5" />
<line x1="607.00" y1="976.20" x2="607.00" y2="984.80" stroke="#000" stroke-width="1.5" />
<line x1="607.00" y1="561.00" x2="607.00" y2="569.60" stroke="#000" stroke-width="1.5" />
<text x="119.00" y="1012.6" font-family='"Liberation Sans", sans-serif' class="b" font-weight="bold" font-size="23">10<tspan class="t" font-size="14" dy="-13.7" letter-spacing="-0.5">-4</tspan></text>
<text x="275.30" y="1012.6" font-family='"Liberation Sans", sans-serif' class="b" font-weight="bold" font-size="23">10<tspan class="t" font-size="14" dy="-13.7" letter-spacing="-0.5">-3</tspan></text>
<text x="431.60" y="1012.6" font-family='"Liberation Sans", sans-serif' class="b" font-weight="bold" font-size="23">10<tspan class="t" font-size="14" dy="-13.7" letter-spacing="-0.5">-2</tspan></text>
<text x="587.90" y="1012.6" font-family='"Liberation Sans", sans-serif' class="b" font-weight="bold" font-size="23">10<tspan class="t" font-size="14" dy="-13.7" letter-spacing="-0.5">-1</tspan></text>
<line x1="112.40" y1="939.23" x2="117.40" y2="939.23" stroke="#000" stroke-width="1.5" />
<line x1="649.40" y1="939.23" x2="654.40" y2="939.23" stroke="#000" stroke-width="1.5" />
<line x1="112.40" y1="912.56" x2="117.40" y2="912.56" stroke="#000" stroke-width="1.5" />
<line x1="649.40" y1="912.56" x2="654.40" y2="912.56" stroke="#000" stroke-width="1.5" />
<line x1="112.40" y1="891.87" x2="117.40" y2="891.87" stroke="#000" stroke-width="1.5" />
<line x1="649.40" y1="891.87" x2="654.40" y2="891.87" stroke="#000" stroke-width="1.5" />
<line x1="112.40" y1="874.96" x2="117.40" y2="874.96" stroke="#000" stroke-width="1.5" />
<line x1="649.40" y1="874.96" x2="654.40" y2="874.96" stroke="#000" stroke-width="1.5" />
<line x1="112.40" y1="860.67" x2="117.40" y2="860.67" stroke="#000" stroke-width="1.5" />
<line x1="649.40" y1="860.67" x2="654.40" y2="860.67" stroke="#000" stroke-width="1.5" />
<line x1="112.40" y1="848.29" x2="117.40" y2="848.29" stroke="#000" stroke-width="1.5" />
<line x1="649.40" y1="848.29" x2="654.40" y2="848.29" stroke="#000" stroke-width="1.5" />
<line x1="112.40" y1="837.37" x2="117.40" y2="837.37" stroke="#000" stroke-width="1.5" />
<line x1="649.40" y1="837.37" x2="654.40" y2="837.37" stroke="#000" stroke-width="1.5" />
<line x1="108.40" y1="827.60" x2="117.40" y2="827.60" stroke="#000" stroke-width="1.5" />
<line x1="645.40" y1="827.60" x2="654.40" y2="827.60" stroke="#000" stroke-width="1.5" />
<line x1="112.40" y1="763.33" x2="117.40" y2="763.33" stroke="#000" stroke-width="1.5" />
<line x1="649.40" y1="763.33" x2="654.40" y2="763.33" stroke="#000" stroke-width="1.5" />
<line x1="112.40" y1="725.73" x2="117.40" y2="725.73" stroke="#000" stroke-width="1.5" />
<line x1="649.40" y1="725.73" x2="654.40" y2="725.73" stroke="#000" stroke-width="1.5" />
<line x1="112.40" y1="699.06" x2="117.40" y2="699.06" stroke="#000" stroke-width="1.5" />
<line x1="649.40" y1="699.06" x2="654.40" y2="699.06" stroke="#000" stroke-width="1.5" />
<line x1="112.40" y1="678.37" x2="117.40" y2="678.37" stroke="#000" stroke-width="1.5" />
<line x1="649.40" y1="678.37" x2="654.40" y2="678.37" stroke="#000" stroke-width="1.5" />
<line x1="112.40" y1="661.46" x2="117.40" y2="661.46" stroke="#000" stroke-width="1.5" />
<line x1="649.40" y1="661.46" x2="654.40" y2="661.46" stroke="#000" stroke-width="1.5" />
<line x1="112.40" y1="647.17" x2="117.40" y2="647.17" stroke="#000" stroke-width="1.5" />
<line x1="649.40" y1="647.17" x2="654.40" y2="647.17" stroke="#000" stroke-width="1.5" />
<line x1="112.40" y1="634.79" x2="117.40" y2="634.79" stroke="#000" stroke-width="1.5" />
<line x1="649.40" y1="634.79" x2="654.40" y2="634.79" stroke="#000" stroke-width="1.5" />
<line x1="112.40" y1="623.87" x2="117.40" y2="623.87" stroke="#000" stroke-width="1.5" />
<line x1="649.40" y1="623.87" x2="654.40" y2="623.87" stroke="#000" stroke-width="1.5" />
<line x1="108.40" y1="614.10" x2="117.40" y2="614.10" stroke="#000" stroke-width="1.5" />
<line x1="645.40" y1="614.10" x2="654.40" y2="614.10" stroke="#000" stroke-width="1.5" />
<text x="66.0" y="622.80" font-family='"Liberation Sans", sans-serif' class="b" font-weight="bold" font-size="23">10<tspan class="t" font-size="14" dy="-13.7" letter-spacing="-0.5">-1</tspan></text>
<text x="66.0" y="836.30" font-family='"Liberation Sans", sans-serif' class="b" font-weight="bold" font-size="23">10<tspan class="t" font-size="14" dy="-13.7" letter-spacing="-0.5">-2</tspan></text>
<text transform="translate(45.3,789.6) rotate(-90)" font-family='"Liberation Sans", sans-serif' font-size="31.9" font-weight="normal" text-anchor="middle" stroke="#000" stroke-width="0.35">S(p<tspan font-size="18" dy="11.5">c</tspan><tspan dy="-11.5">,r)</tspan></text>
<text x="386.00" y="1060.30" font-family='"Liberation Sans", sans-serif' font-size="31.5" font-weight="bold" class="g" text-anchor="middle" fill="#000" >r</text>
<text x="9.90" y="514.80" font-family='"Liberation Sans", sans-serif' font-size="30.3" font-weight="bold" class="g" text-anchor="start" fill="#000" >(c)</text>
<text x="359.00" y="619.20" font-family='"Liberation Sans", sans-serif' font-size="41" font-weight="bold" class="b" text-anchor="start" fill="#000" style="stroke-width:0.6px">1/</text>
<text x="393.60" y="619.70" font-family='"Liberation Serif", serif' font-size="43" font-weight="normal" text-anchor="start" fill="#000" stroke="#000" stroke-width="0.6">&#948;</text>
<text x="424.80" y="619.20" font-family='"Liberation Sans", sans-serif' font-size="41" font-weight="bold" class="b" text-anchor="start" fill="#000" >=</text>
<text x="461.90" y="619.30" font-family='"Liberation Sans", sans-serif' font-size="42.3" font-weight="bold" class="b" text-anchor="start" fill="#000" >0.5</text>
<rect x="130.0" y="520.5" width="160.3" height="279.2" fill="#000"/>
<rect x="124.5" y="515.0" width="160.2" height="279.2" fill="#fff" stroke="#777" stroke-width="1"/>
<rect x="154.14" y="541.14" width="11.32" height="11.32" fill="#fff" stroke="#000" stroke-width="1.9"/>
<text x="183.5" y="552.90" font-family='"Liberation Sans", sans-serif' class="m" font-weight="bold" font-size="15.6" letter-spacing="0.22">&lt;k<tspan class="s" font-size="10.2" dy="6.7" dx="1.6">inter</tspan><tspan dy="-6.7">&gt;=1</tspan></text>
<circle cx="159.80" cy="575.46" r="6.75" fill="#fff" stroke="#ff0000" stroke-width="1.9"/>
<text x="183.5" y="581.56" font-family='"Liberation Sans", sans-serif' class="m" font-weight="bold" font-size="15.6" letter-spacing="0.22">&lt;k<tspan class="s" font-size="10.2" dy="6.7" dx="1.6">inter</tspan><tspan dy="-6.7">&gt;=2</tspan></text>
<path d="M153.25,608.89 L166.35,608.89 L159.80,597.28 Z" fill="#fff" stroke="#0000ff" stroke-width="1.9"/>
<circle cx="159.80" cy="605.02" r="1.35" fill="#0000ff"/>
<text x="183.5" y="610.22" font-family='"Liberation Sans", sans-serif' class="m" font-weight="bold" font-size="15.6" letter-spacing="0.22">&lt;k<tspan class="s" font-size="10.2" dy="6.7" dx="1.6">inter</tspan><tspan dy="-6.7">&gt;=4</tspan></text>
<path d="M152.84,628.54 L166.76,628.54 L159.80,640.36 Z" fill="#fff" stroke="#ff00ff" stroke-width="1.9"/>
<text x="183.5" y="638.88" font-family='"Liberation Sans", sans-serif' class="m" font-weight="bold" font-size="15.6" letter-spacing="0.22">&lt;k<tspan class="s" font-size="10.2" dy="6.7" dx="1.6">inter</tspan><tspan dy="-6.7">&gt;=8</tspan></text>
<path d="M152.30,661.44 L159.80,653.94 L167.30,661.44 L159.80,668.94 Z" fill="none" stroke="#008000" stroke-width="1.8"/>
<path d="M152.30,661.44 L167.30,661.44 M159.80,653.94 L159.80,668.94" fill="none" stroke="#008000" stroke-width="1.8"/>
<text x="183.5" y="667.54" font-family='"Liberation Sans", sans-serif' class="m" font-weight="bold" font-size="15.6" letter-spacing="0.22">&lt;k<tspan class="s" font-size="10.2" dy="6.7" dx="1.6">inter</tspan><tspan dy="-6.7">&gt;=16</tspan></text>
<path d="M164.46,682.39 L164.46,697.81 L151.28,690.10 Z" fill="none" stroke="#000080" stroke-width="1.8"/>
<path d="M150.83,681.13 L168.77,699.07 M150.83,699.07 L168.77,681.13" fill="none" stroke="#000080" stroke-width="1.8"/>
<text x="183.5" y="696.20" font-family='"Liberation Sans", sans-serif' class="m" font-weight="bold" font-size="15.6" letter-spacing="0.22">&lt;k<tspan class="s" font-size="10.2" dy="6.7" dx="1.6">inter</tspan><tspan dy="-6.7">&gt;=32</tspan></text>
<path d="M155.43,711.62 L155.43,725.90 L167.34,718.76 Z" fill="none" stroke="#8000ff" stroke-width="1.8"/>
<path d="M151.07,718.76 L167.34,718.76" fill="none" stroke="#8000ff" stroke-width="1.8"/>
<text x="183.5" y="724.86" font-family='"Liberation Sans", sans-serif' class="m" font-weight="bold" font-size="15.6" letter-spacing="0.22">&lt;k<tspan class="s" font-size="10.2" dy="6.7" dx="1.6">inter</tspan><tspan dy="-6.7">&gt;=64</tspan></text>
<path d="M159.80,740.20 L166.08,743.81 L166.08,751.03 L159.80,754.64 L153.52,751.03 L153.52,743.81 Z" fill="none" stroke="#800080" stroke-width="1.9"/>
<path d="M159.80,740.20 L159.80,754.64" fill="none" stroke="#800080" stroke-width="1.9"/>
<text x="183.5" y="753.52" font-family='"Liberation Sans", sans-serif' class="m" font-weight="bold" font-size="15.6" letter-spacing="0.22">&lt;k<tspan class="s" font-size="10.2" dy="6.7" dx="1.6">inter</tspan><tspan dy="-6.7">&gt;=128</tspan></text>
<rect x="826.3" y="573.5" width="10" height="9.4" fill="#ff8000"/>
<circle cx="831.4" cy="673.9" r="5.5" fill="#ff0000"/>
<path d="M824.4,788.6 L837.6,788.6 L831,778 Z" fill="#0000ff"/>
<line x1="815.50" y1="560.20" x2="815.50" y2="977.00" stroke="#000" stroke-width="1.6" />
<line x1="815.50" y1="561.00" x2="840.00" y2="561.00" stroke="#000" stroke-width="1.6" />
<line x1="815.50" y1="976.20" x2="840.00" y2="976.20" stroke="#000" stroke-width="1.6" />
<line x1="829.70" y1="561.00" x2="829.70" y2="565.80" stroke="#000" stroke-width="1.4" />
<line x1="829.70" y1="976.20" x2="829.70" y2="981.00" stroke="#000" stroke-width="1.4" />
<line x1="810.90" y1="968.29" x2="815.50" y2="968.29" stroke="#000" stroke-width="1.5" />
<line x1="810.90" y1="950.69" x2="815.50" y2="950.69" stroke="#000" stroke-width="1.5" />
<line x1="810.90" y1="935.82" x2="815.50" y2="935.82" stroke="#000" stroke-width="1.5" />
<line x1="810.90" y1="922.93" x2="815.50" y2="922.93" stroke="#000" stroke-width="1.5" />
<line x1="810.90" y1="911.57" x2="815.50" y2="911.57" stroke="#000" stroke-width="1.5" />
<line x1="807.10" y1="901.40" x2="815.50" y2="901.40" stroke="#000" stroke-width="1.5" />
<line x1="810.90" y1="834.51" x2="815.50" y2="834.51" stroke="#000" stroke-width="1.5" />
<line x1="810.90" y1="795.38" x2="815.50" y2="795.38" stroke="#000" stroke-width="1.5" />
<line x1="810.90" y1="767.62" x2="815.50" y2="767.62" stroke="#000" stroke-width="1.5" />
<line x1="810.90" y1="746.09" x2="815.50" y2="746.09" stroke="#000" stroke-width="1.5" />
<line x1="810.90" y1="728.49" x2="815.50" y2="728.49" stroke="#000" stroke-width="1.5" />
<line x1="810.90" y1="713.62" x2="815.50" y2="713.62" stroke="#000" stroke-width="1.5" />
<line x1="810.90" y1="700.73" x2="815.50" y2="700.73" stroke="#000" stroke-width="1.5" />
<line x1="810.90" y1="689.37" x2="815.50" y2="689.37" stroke="#000" stroke-width="1.5" />
<line x1="807.10" y1="679.20" x2="815.50" y2="679.20" stroke="#000" stroke-width="1.5" />
<line x1="810.90" y1="612.31" x2="815.50" y2="612.31" stroke="#000" stroke-width="1.5" />
<line x1="810.90" y1="573.18" x2="815.50" y2="573.18" stroke="#000" stroke-width="1.5" />
<text x="768.6" y="687.60" font-family='"Liberation Sans", sans-serif' class="b" font-weight="bold" font-size="23">10<tspan class="t" font-size="14" dy="-12.3">1</tspan></text>
<text x="768.6" y="909.80" font-family='"Liberation Sans", sans-serif' class="b" font-weight="bold" font-size="23">10<tspan class="t" font-size="14" dy="-12.3">0</tspan></text>
<text x="707.30" y="525.10" font-family='"Liberation Sans", sans-serif' font-size="30" font-weight="bold" class="g" text-anchor="start" fill="#000" >(d)</text>
<line x1="668.90" y1="775.30" x2="777.80" y2="775.30" stroke="#000" stroke-width="1.4" />
<text x="671.40" y="763.20" font-family='"Liberation Serif", serif' font-size="30.5" font-weight="normal" text-anchor="start" fill="#000" stroke="#000" stroke-width="0.3">&#8706;</text>
<text x="687.00" y="763.20" font-family='"Liberation Serif", serif' font-size="33" font-weight="normal" font-style="italic" text-anchor="start" fill="#000" stroke="#000" stroke-width="0.3">S</text>
<text x="705.60" y="763.20" font-family='"Liberation Serif", serif' font-size="33" font-weight="normal" text-anchor="start" fill="#000" stroke="#000" stroke-width="0.3">(</text>
<text x="719.50" y="763.20" font-family='"Liberation Serif", serif' font-size="33" font-weight="normal" font-style="italic" text-anchor="start" fill="#000" stroke="#000" stroke-width="0.3">p</text>
<text x="739.00" y="763.20" font-family='"Liberation Serif", serif' font-size="33" font-weight="normal" text-anchor="start" fill="#000" stroke="#000" stroke-width="0.3">,</text>
<text x="750.80" y="763.20" font-family='"Liberation Serif", serif' font-size="33" font-weight="normal" font-style="italic" text-anchor="start" fill="#000" stroke="#000" stroke-width="0.3">r</text>
<text x="765.20" y="763.20" font-family='"Liberation Serif", serif' font-size="33" font-weight="normal" text-anchor="start" fill="#000" stroke="#000" stroke-width="0.3">)</text>
<text x="708.90" y="809.30" font-family='"Liberation Serif", serif' font-size="30.5" font-weight="normal" text-anchor="start" fill="#000" stroke="#000" stroke-width="0.3">&#8706;</text>
<text x="723.80" y="809.30" font-family='"Liberation Serif", serif' font-size="33" font-weight="normal" font-style="italic" text-anchor="start" fill="#000" stroke="#000" stroke-width="0.3">r</text>
</svg>
</body></html>
